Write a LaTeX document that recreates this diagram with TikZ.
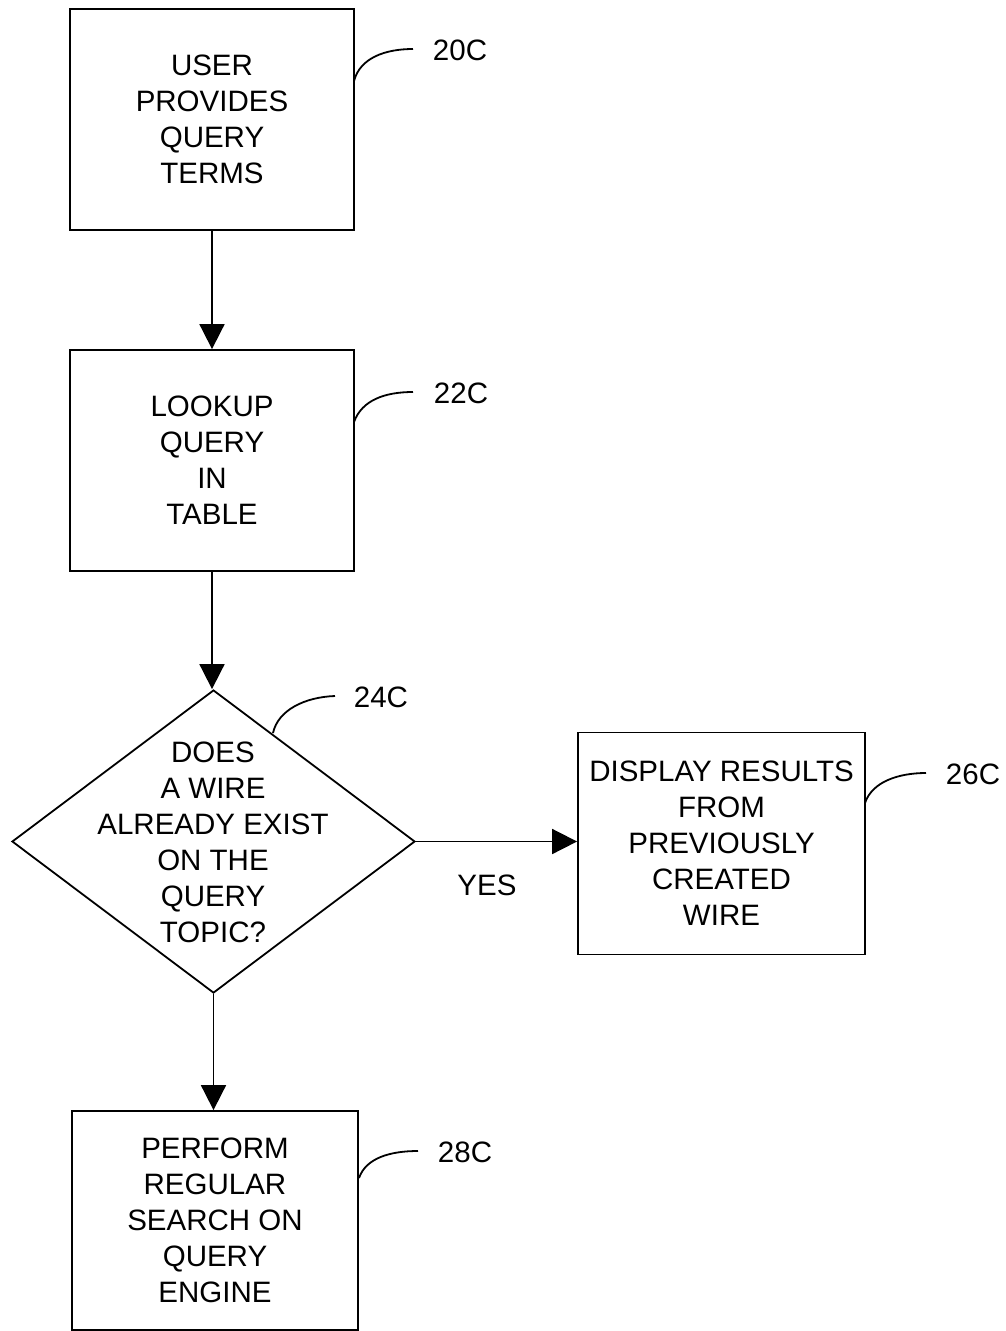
\documentclass[tikz,border=0pt]{standalone}
\usepackage{fontspec}
\setmainfont{Liberation Sans}
\usetikzlibrary{shapes.geometric,arrows.meta}
\begin{document}
\begin{tikzpicture}[x=1pt,y=-1pt,
  txt/.style={font=\fontsize{29.5}{36}\selectfont, align=center, inner sep=0pt},
  stepbox/.style={draw, line width=1.8pt, txt},
  flow/.style={line width=1.8pt, -{Triangle[width=25pt,length=25pt]}},
  leader/.style={line width=1.8pt},
  refl/.style={txt}]
\useasboundingbox (0,0) rectangle (1005,1331);
% boxes
\node[stepbox, minimum width=284pt, minimum height=221pt] (b1) at (212,119.5) {USER\\PROVIDES\\QUERY\\TERMS};
\node[stepbox, minimum width=284pt, minimum height=221pt] (b2) at (212,460.5) {LOOKUP\\QUERY\\IN\\TABLE};
\node[draw, diamond, line width=1.8pt, inner sep=0pt, minimum width=403pt, minimum height=303pt] (d) at (213.5,841.5) {};
\node[txt] (dt) at (213,842) {DOES\\A WIRE\\ALREADY EXIST\\ON THE\\QUERY\\TOPIC?};
\node[stepbox, minimum width=287pt, minimum height=222pt] (b3) at (721.5,843.5) {DISPLAY RESULTS\\FROM\\PREVIOUSLY\\CREATED\\WIRE};
\node[stepbox, minimum width=286pt, minimum height=219pt] (b4) at (215,1220.5) {PERFORM\\REGULAR\\SEARCH ON\\QUERY\\ENGINE};
% flow arrows
\draw[flow] (b1.south) -- (b2.north);
\draw[flow] (b2.south) -- (b2.south |- d.north);
\draw[flow] (d.east) -- (b3.west |- d.east);
\draw[flow] (d.south) -- (d.south |- b4.north);
\node[refl] (yes) at (487,885) {YES};
% reference labels
\node[refl] (l1) at (460,50) {20C};
\node[refl] (l2) at (461,393) {22C};
\node[refl] (l3) at (381,697) {24C};
\node[refl] (l4) at (973,774) {26C};
\node[refl] (l5) at (465,1152) {28C};
\coordinate (s1) at (354,81);
\coordinate (s2) at (354,422);
\coordinate (s3) at (273,733);
\coordinate (s4) at (865,803);
\coordinate (s5) at (359,1178);
\coordinate (e1) at (413,49);
\coordinate (e2) at (413,392);
\coordinate (e3) at (335,696);
\coordinate (e4) at (926,773);
\coordinate (e5) at (418,1151);
\draw[leader] (s1) .. controls (360,58) and (385,49) .. (e1);
\draw[leader] (s2) .. controls (362,400) and (385,392) .. (e2);
\draw[leader] (s3) .. controls (278,710) and (305,697) .. (e3);
\draw[leader] (s4) .. controls (872,782) and (898,773) .. (e4);
\draw[leader] (s5) .. controls (366,1158) and (390,1151) .. (e5);
\end{tikzpicture}
\end{document}
